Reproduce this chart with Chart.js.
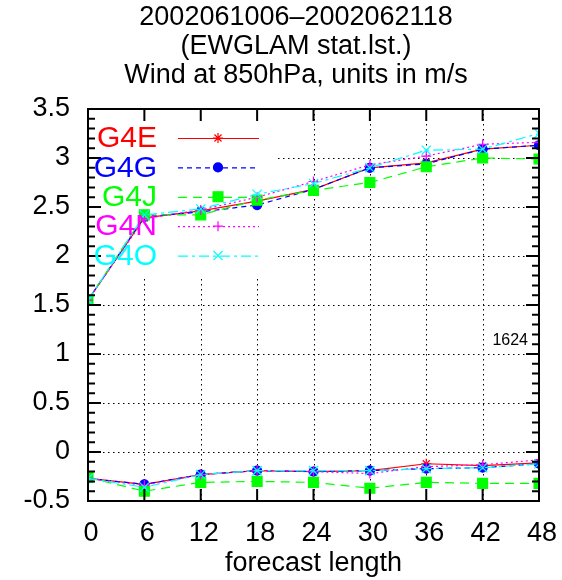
<!DOCTYPE html>
<html>
<head>
<meta charset="utf-8">
<script src="https://cdn.jsdelivr.net/npm/chart.js@4/dist/chart.umd.min.js"></script>
<style>
  body{margin:0;background:#fff;}
  #wrap{width:562px;height:580px;}
</style>
</head>
<body>
<div id="wrap"><canvas id="myChart"></canvas></div>
<script>
// forecast steps (hours)
const steps=[0,6,12,18,24,30,36,42,48];
const models=['G4E','G4G','G4J','G4N','G4O'];
const titleLines=['2002061006\u20132002062118','(EWGLAM stat.lst.)','Wind at 850hPa, units in m/s'];
const yTicks=[-0.5,0,0.5,1,1.5,2,2.5,3,3.5];
const caseCount='1624';

// rms (upper curves)
const rmsE=[1.55,2.39,2.46,2.56,2.68,2.90,2.95,3.09,3.13];
const rmsG=[1.55,2.40,2.45,2.52,2.68,2.90,2.94,3.09,3.13];
const rmsJ=[1.55,2.42,2.42,2.57,2.67,2.75,2.91,3.00,2.99];
const rmsN=[1.55,2.38,2.47,2.60,2.76,2.93,3.02,3.14,3.16];
const rmsO=[1.55,2.42,2.48,2.63,2.74,2.90,3.08,3.09,3.25];

// bias (lower curves)
const biasE=[-0.27,-0.33,-0.23,-0.19,-0.20,-0.19,-0.12,-0.14,-0.11];
const biasG=[-0.27,-0.33,-0.23,-0.19,-0.20,-0.19,-0.17,-0.16,-0.12];
const biasJ=[-0.26,-0.40,-0.31,-0.30,-0.31,-0.37,-0.31,-0.32,-0.32];
const biasN=[-0.27,-0.34,-0.23,-0.19,-0.20,-0.22,-0.15,-0.13,-0.08];
const biasO=[-0.27,-0.36,-0.23,-0.19,-0.19,-0.19,-0.17,-0.16,-0.12];

const rmsAll=[rmsE,rmsG,rmsJ,rmsN,rmsO];
const biasAll=[biasE,biasG,biasJ,biasN,biasO];

const styles=[
  {color:'#ff0000',dash:[],point:'star',radius:5},
  {color:'#0000ff',dash:[5,4],point:'circle',radius:4.5},
  {color:'#00ff00',dash:[9,6],point:'rect',radius:7},
  {color:'#ff00ff',dash:[2,3],point:'cross',radius:5},
  {color:'#00ffff',dash:[10,4,3,4],point:'crossRot',radius:6.5}
];
const FONT='"Liberation Sans", Arial, Helvetica, sans-serif';

const toPoints=(vals)=>vals.map((v,i)=>({x:steps[i],y:v}));

const makeSet=(i,vals)=>{
  const s=styles[i];
  return {
    label:models[i],
    data:toPoints(vals),
    borderColor:s.color,
    backgroundColor:s.color,
    borderWidth:1.2,
    borderDash:s.dash,
    pointStyle:s.point,
    pointRadius:s.radius,
    pointBorderWidth:1.2,
    pointBorderColor:s.color,
    pointBackgroundColor:s.color,
    tension:0,
    order:5-i
  };
};

const datasets=[];
for(let i=0;i<models.length;++i){
  datasets.push(makeSet(i,rmsAll[i]));
  datasets.push(makeSet(i,biasAll[i]));
}

// gnuplot-like frame, grid, ticks and key
const gnuplotLook={
  id:'gnuplotLook',
  beforeDatasetsDraw(chart){
    const c=chart.ctx, a=chart.chartArea, xs=chart.scales.x, ys=chart.scales.y;
    c.save();
    c.strokeStyle='#000';
    c.lineWidth=1;
    c.setLineDash([1.5,3.5]);
    for(let i=1;i<steps.length-1;++i){
      const px=Math.round(xs.getPixelForValue(steps[i]))+0.5;
      c.beginPath();c.moveTo(px,a.top);c.lineTo(px,a.bottom);c.stroke();
    }
    for(let i=1;i<yTicks.length-1;++i){
      const py=Math.round(ys.getPixelForValue(yTicks[i]))+0.5;
      c.beginPath();c.moveTo(a.left,py);c.lineTo(a.right,py);c.stroke();
    }
    c.setLineDash([]);
    // key background
    c.fillStyle='#fff';
    c.fillRect(a.left+1,a.top+1,189,167);
    c.restore();
  },
  afterDatasetsDraw(chart){
    const c=chart.ctx, a=chart.chartArea, xs=chart.scales.x, ys=chart.scales.y;
    c.save();
    c.strokeStyle='#000';
    c.lineWidth=2;
    c.strokeRect(a.left,a.top,a.right-a.left,a.bottom-a.top);
    // y ticks (major every 0.5, minor every 0.1)
    for(let k=-5;k<=35;++k){
      const py=ys.getPixelForValue(k/10);
      const len=(k%5===0)?13:7;
      c.beginPath();
      c.moveTo(a.left,py);c.lineTo(a.left+len,py);
      c.moveTo(a.right,py);c.lineTo(a.right-len,py);
      c.stroke();
    }
    for(let i=0;i<steps.length;++i){
      const px=xs.getPixelForValue(steps[i]);
      c.beginPath();
      c.moveTo(px,a.bottom);c.lineTo(px,a.bottom-12);
      c.moveTo(px,a.top);c.lineTo(px,a.top+12);
      c.stroke();
    }
    // key
    c.font='30px '+FONT;
    c.textAlign='right';
    c.textBaseline='middle';
    for(let i=0;i<models.length;++i){
      const s=styles[i];
      const ky=a.top+29+i*29.4;
      c.fillStyle=s.color;
      c.fillText(models[i],a.left+69,ky+1);
      c.strokeStyle=s.color;
      c.lineWidth=1.2;
      c.setLineDash(s.dash);
      c.beginPath();c.moveTo(a.left+90,ky+0.5);c.lineTo(a.left+171,ky+0.5);c.stroke();
      c.setLineDash([]);
      Chart.helpers.drawPoint(c,{pointStyle:s.point,radius:s.radius,borderWidth:1.2,rotation:0},a.left+130,ky);
      c.fillStyle=s.color;
      c.fill();
    }
    // number of cases
    c.fillStyle='#000';
    c.font='16px '+FONT;
    c.textAlign='right';
    c.fillText(caseCount,a.right-11,341);
    // title
    c.font='27px '+FONT;
    c.textAlign='center';
    for(let i=0;i<titleLines.length;++i){
      c.fillText(titleLines[i],296,18+i*29);
    }
    c.restore();
  }
};

const ctx=document.getElementById('myChart');
new Chart(ctx,{
  type:'line',
  data:{datasets:datasets},
  options:{
    responsive:true,
    maintainAspectRatio:false,
    animation:false,
    layout:{padding:{top:109,right:23,left:0,bottom:0}},
    plugins:{
      legend:{display:false},
      tooltip:{enabled:false},
      title:{display:false}
    },
    scales:{
      x:{
        type:'linear',
        min:0,max:48,
        afterFit:(s)=>{s.height=79;s.paddingLeft=0;s.paddingRight=0;},
        afterBuildTicks:(s)=>{s.ticks=steps.map(v=>({value:v}));},
        grid:{display:false,drawTicks:false},
        border:{display:false},
        ticks:{color:'#000',font:{size:27,family:FONT},padding:16,labelOffset:3,maxRotation:0},
        title:{display:true,text:'forecast length',color:'#000',font:{size:27,family:FONT},padding:{top:0,bottom:0}}
      },
      y:{
        min:-0.5,max:3.5,
        afterFit:(s)=>{s.width=88;s.paddingTop=0;s.paddingBottom=0;},
        afterBuildTicks:(s)=>{s.ticks=yTicks.map(v=>({value:v}));},
        grid:{display:false,drawTicks:false},
        border:{display:false},
        ticks:{color:'#000',font:{size:27,family:FONT},padding:18,callback:(v)=>String(v)}
      }
    }
  },
  plugins:[gnuplotLook]
});
</script>
</body>
</html>
